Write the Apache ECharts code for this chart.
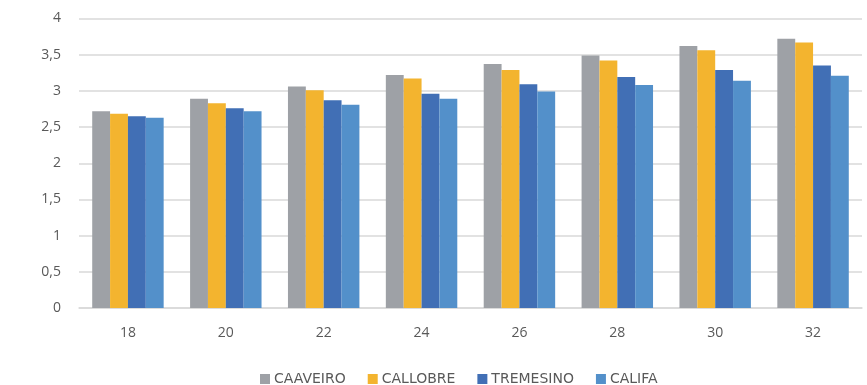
<!DOCTYPE html>
<html>
<head>
<meta charset="utf-8">
<script src="https://cdn.jsdelivr.net/npm/echarts@6/dist/echarts.min.js"></script>
<style>
  html, body { margin: 0; padding: 0; background: #fff; }
  #chart { width: 867px; height: 385px; }
</style>
</head>
<body>
<div id="chart"></div>
<script>
const categories = ["18", "20", "22", "24", "26", "28", "30", "32"];
const seriesNames = ["CAAVEIRO", "CALLOBRE", "TREMESINO", "CALIFA"];
const caaveiro = [2.72, 2.89, 3.06, 3.22, 3.37, 3.49, 3.62, 3.72];
const callobre = [2.685, 2.83, 3.01, 3.17, 3.29, 3.42, 3.56, 3.67];
const tremesino = [2.65, 2.76, 2.87, 2.96, 3.09, 3.19, 3.29, 3.35];
const califa = [2.63, 2.72, 2.81, 2.89, 2.99, 3.08, 3.14, 3.21];
const colors = ["#9ea1a6", "#f3b42f", "#416fb5", "#5390ca"];

const values = [caaveiro, callobre, tremesino, califa];
const chart = echarts.init(document.getElementById("chart"), null, { renderer: "canvas" });

chart.setOption({
  animation: false,
  backgroundColor: "#fff",
  color: colors,
  textStyle: { fontFamily: "Open Sans" },
  grid: { left: 79, right: 5, top: 18.5, bottom: 77 },
  legend: {
    top: 367,
    left: 255,
    icon: "rect",
    itemWidth: 10,
    itemHeight: 10,
    itemGap: 22,
    textStyle: { color: "#595959", fontSize: 14, fontFamily: "DejaVu Sans", padding: [0, 0, 0, -1] },
    data: seriesNames,
  },
  xAxis: {
    type: "category",
    data: categories,
    axisLine: { lineStyle: { color: "#d9d9d9", width: 1.5 } },
    axisTick: { show: false },
    axisLabel: { color: "#595959", fontSize: 14, margin: 18 },
  },
  yAxis: {
    type: "value",
    min: 0,
    max: 4,
    interval: 0.5,
    axisLine: { show: false },
    axisTick: { show: false },
    splitLine: { lineStyle: { color: "#d9d9d9", width: 1.5 } },
    axisLabel: {
      color: "#595959",
      fontSize: 14,
      margin: 18,
      formatter: (v) => String(v).replace(".", ","),
    },
  },
  series: seriesNames.map((name, i) => ({
    name,
    type: "bar",
    data: values[i],
    barGap: "0%",
    barCategoryGap: "27%",
    itemStyle: { color: colors[i] },
  })),
});
</script>
</body>
</html>
